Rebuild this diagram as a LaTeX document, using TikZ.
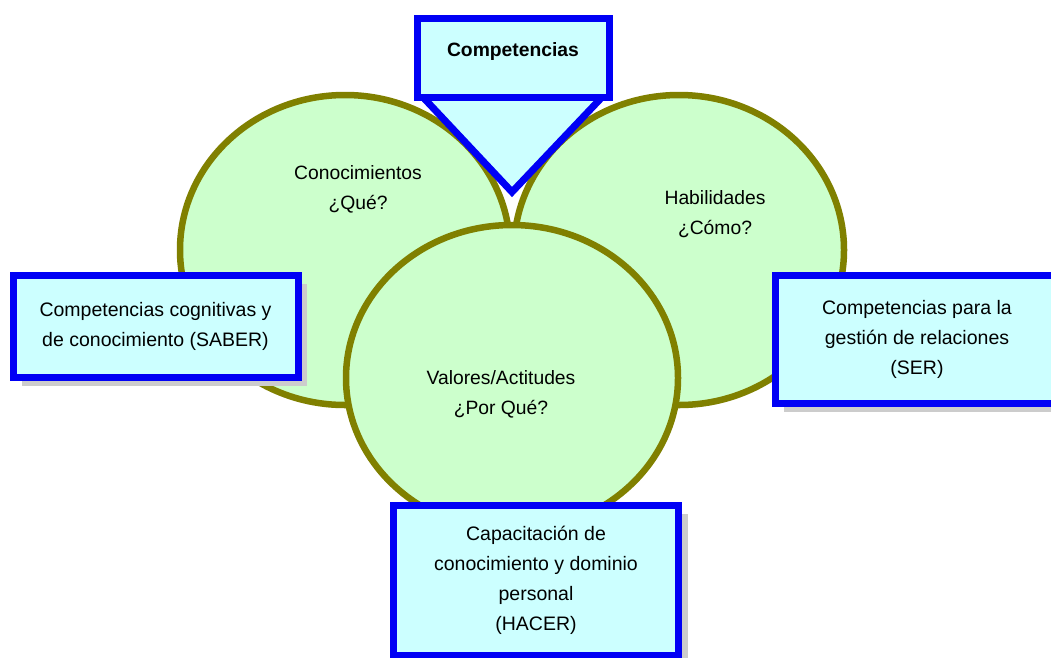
\documentclass[tikz,border=0pt]{standalone}
\usepackage{fontspec}
\setmainfont{Liberation Sans}
\usepackage{tikz}
\usetikzlibrary{shapes,shadows,positioning}
\usepackage{xcolor}
\definecolor{cmblue}{RGB}{0,0,245}
\definecolor{cmcyan}{RGB}{204,255,255}
\definecolor{cmgreen}{RGB}{204,255,204}
\definecolor{cmolive}{RGB}{128,128,0}
\tikzstyle{circulo} = [ellipse, draw=cmolive, fill=cmgreen, line width=6.5pt, minimum width=330pt, minimum height=310pt]
\tikzstyle{marco} = [draw=cmblue, fill=cmcyan, line width=7pt]
\tikzstyle{caja} = [marco, rectangle, align=center, text centered, font=\fontsize{19.5}{30}\selectfont, drop shadow={shadow xshift=9pt, shadow yshift=-9pt, fill=gray!40, opacity=1}]
\tikzstyle{texto} = [align=center, font=\fontsize{19.3}{30}\selectfont]

\begin{document}
\begin{tikzpicture}[x=1pt, y=-1pt]
\path[use as bounding box, clip] (0,0) rectangle (1051,657);

% Circles
\node[circulo] (saber) at (345,250) {};
\node[circulo] (habil) at (679,250) {};
\node[circulo, minimum width=332pt, minimum height=306pt] (valores) at (512,378) {};

% Title with pointer
\draw[marco, line join=miter] (420,94) -- (512,192) -- (605,94);
\node[marco, rectangle, font=\bfseries\fontsize{19.3}{30}\selectfont, minimum width=192pt, minimum height=79pt, text depth=16pt] (competencias) at (513,58) {Competencias};

% Circle labels
\node[texto] (conoc) at (358,189) {Conocimientos\\¿Qué?};
\node[texto] (como) at (715,214) {Habilidades\\¿Cómo?};
\node[texto] (porque) at (501,394) {Valores/Actitudes\\¿Por Qué?};

% Boxes
\node[caja, minimum width=285pt, minimum height=102pt] (saberbox) at (155.5,326) {Competencias cognitivas y\\de conocimiento (SABER)};
\node[caja, minimum width=284pt, minimum height=128pt] (serbox) at (917,339) {Competencias para la\\gestión de relaciones\\(SER)};
\node[caja, minimum width=285pt, minimum height=150pt] (hacerbox) at (536,580) {Capacitación de\\conocimiento y dominio\\personal\\(HACER)};
\end{tikzpicture}
\end{document}
